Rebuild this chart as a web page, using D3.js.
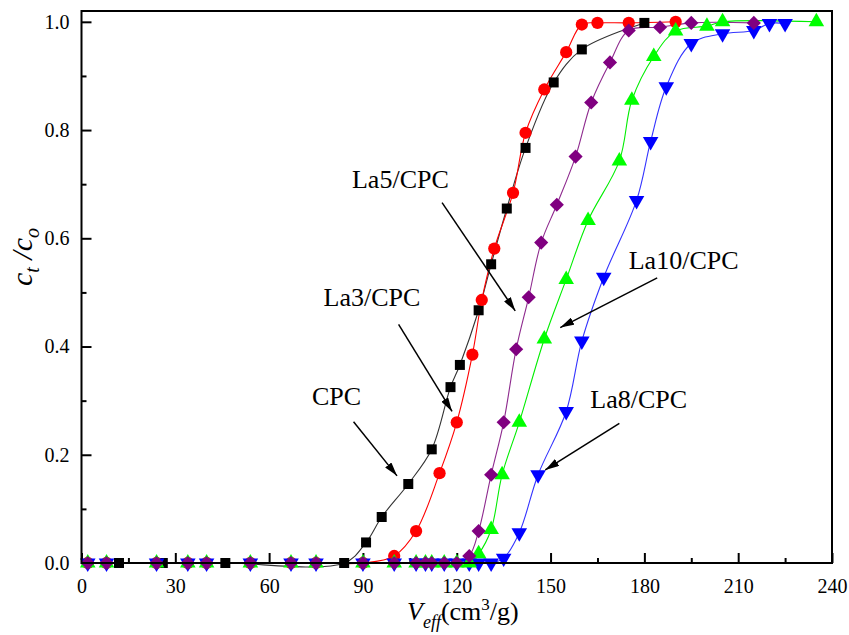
<!DOCTYPE html>
<html>
<head>
<meta charset="utf-8">
<script src="https://d3js.org/d3.v7.min.js"></script>
<style>
body{margin:0;background:#fff;}
text{font-family:"Liberation Serif","Times New Roman",serif;fill:#000;}
</style>
</head>
<body>
<script>
// breakthrough data, V_eff (cm3/g) vs ct/co
var cpcV=[12,26,46,84,91,96,104.5,112,118,121,127,131,136,142,151,160,180];
var cpcC=[0,0,0,0,0.038,0.085,0.146,0.21,0.325,0.366,0.467,0.552,0.655,0.767,0.888,0.949,0.998];

var la3V=[2,8,24,34,40,54,67,75,90,100,107,114.5,120,125,128,132,138,142,148,155,160,165,175,190];
var la3C=[0,0,0,0,0,0,0,0,0,0.013,0.059,0.166,0.26,0.385,0.486,0.581,0.684,0.795,0.875,0.944,0.995,0.998,0.998,1.0];

var la8V=[2,8,24,34,40,54,67,75,90,100,107,110,112,116,120,124,127,131,135,140,146,155,160,167,177.5,182,187,195,205,215,220,225];
var la8C=[0,0,0,0,0,0,0,0,0,0,0,0,0,0,0,0,0,0,0.009,0.056,0.163,0.28,0.41,0.528,0.67,0.779,0.88,0.96,0.978,0.984,0.997,0.997];

var la10V=[2,8,24,34,40,54,67,75,90,100,107,110,112,116,120,124,127,131,134.5,140,148,155,162,172,176,183,190,200,205,235];
var la10C=[0,0,0,0,0,0,0,0,0,0,0,0,0,0,0,0,0.017,0.062,0.163,0.26,0.414,0.524,0.633,0.743,0.855,0.936,0.983,0.992,1.0,1.0];

var la5V=[2,8,24,34,40,54,67,75,90,100,107,110,112,116,120,124,127,131,135,139,143,147,152,158,163,169,175,185,195,215];
var la5C=[0,0,0,0,0,0,0,0,0,0,0,0,0,0,0,0.013,0.059,0.163,0.26,0.395,0.491,0.592,0.662,0.751,0.851,0.925,0.984,0.99,0.998,0.998];

var xMajor=[0,30,60,90,120,150,180,210,240];
var xMinor=[15,45,75,105,135,165,195,225];
var yMajor=[0,0.2,0.4,0.6,0.8,1.0];
var yMinor=[0.1,0.3,0.5,0.7,0.9];

// annotation text + arrow (data units)
var noteText=['CPC','La3/CPC','La5/CPC','La10/CPC','La8/CPC'];
var noteAt=[[73.7,0.292],[77.4,0.474],[86.5,0.693],[175,0.544],[162.7,0.286]];
var arrowFrom=[[87,0.261],[101.4,0.441],[115.3,0.666],[184.1,0.527],[172,0.258]];
var arrowTo=[[100.9,0.161],[118.5,0.28],[138.7,0.466],[153.1,0.435],[148.3,0.172]];

var serif="'Liberation Serif','Times New Roman',serif";

var x=d3.scaleLinear().domain([0,240]).range([81.5,832]);
var y=d3.scaleLinear().domain([0,1.02]).range([563,11]);

var svg=d3.select("body").append("svg").attr("width",849).attr("height",635);

var defs=svg.append("defs");
defs.append("marker")
  .attr("id","head")
  .attr("markerUnits","userSpaceOnUse")
  .attr("viewBox","0 0 14 8")
  .attr("refX",14).attr("refY",4)
  .attr("markerWidth",14).attr("markerHeight",8)
  .attr("orient","auto")
  .append("path").attr("d","M0,0L14,4L0,8Z").attr("fill","#000");

// ticks (inward)
function styleAxis(g){
  g.attr("font-family",serif);
  g.select(".domain").remove();
  g.selectAll(".tick line").attr("stroke","#000").attr("stroke-width",2);
  g.selectAll("text").attr("font-size",20).attr("fill","#000").attr("font-family",serif);
}
svg.append("g").attr("transform","translate(0,563)")
  .call(d3.axisBottom(x).tickValues(xMajor).tickSizeInner(-10).tickSizeOuter(0).tickPadding(16).tickFormat(d3.format("d")))
  .call(styleAxis);
svg.append("g").attr("transform","translate(0,563)")
  .call(d3.axisBottom(x).tickValues(xMinor).tickSizeInner(-5).tickSizeOuter(0).tickFormat(""))
  .call(styleAxis);
svg.append("g").attr("transform","translate(81.5,0)")
  .call(d3.axisLeft(y).tickValues(yMajor).tickSizeInner(-10).tickSizeOuter(0).tickPadding(12).tickFormat(d3.format(".1f")))
  .call(styleAxis);
svg.append("g").attr("transform","translate(81.5,0)")
  .call(d3.axisLeft(y).tickValues(yMinor).tickSizeInner(-5).tickSizeOuter(0).tickFormat(""))
  .call(styleAxis);

// series
var series=[
  {v:cpcV,c:cpcC,fill:"#000",line:"#333",shape:"square"},
  {v:la3V,c:la3C,fill:"#ff0000",line:"#ff0000",shape:"circle"},
  {v:la8V,c:la8C,fill:"#0000ff",line:"#3333ff",shape:"down"},
  {v:la10V,c:la10C,fill:"#00ff00",line:"#00ee00",shape:"up"},
  {v:la5V,c:la5C,fill:"#800080",line:"#8e2a8e",shape:"diamond"}
];
var line=d3.line().x(function(d){return x(d[0]);}).y(function(d){return y(d[1]);}).curve(d3.curveCatmullRom.alpha(0.5));

series.forEach(function(s){
  var pts=s.v.map(function(v,i){return [v,s.c[i]];});
  svg.append("path").datum(pts)
    .attr("fill","none").attr("stroke",s.line).attr("stroke-width",1.1)
    .attr("d",line);
});

var symType={square:d3.symbolSquare,circle:d3.symbolCircle,diamond:d3.symbolSquare,up:d3.symbolTriangle,down:d3.symbolTriangle};
var symSize={square:100,circle:118,diamond:100,up:105,down:105};
var symRot={square:0,circle:0,diamond:45,up:0,down:180};

series.forEach(function(s){
  var pts=s.v.map(function(v,i){return [v,s.c[i]];});
  svg.append("g").selectAll("path")
    .data(pts)
    .enter().append("path")
      .attr("d",d3.symbol(symType[s.shape],symSize[s.shape]))
      .attr("fill",s.fill)
      .attr("transform",function(d){return "translate("+x(d[0])+","+y(d[1])+") rotate("+symRot[s.shape]+")";});
});

// frame
svg.append("rect")
  .attr("x",x(0)).attr("y",y(1.02))
  .attr("width",x(240)-x(0)).attr("height",y(0)-y(1.02))
  .attr("fill","none").attr("stroke","#000").attr("stroke-width",2);

// annotations
svg.append("g").selectAll("line")
  .data(arrowFrom)
  .enter().append("line")
    .attr("x1",function(d){return x(d[0]);})
    .attr("y1",function(d){return y(d[1]);})
    .attr("x2",function(d,i){return x(arrowTo[i][0]);})
    .attr("y2",function(d,i){return y(arrowTo[i][1]);})
    .attr("stroke","#000").attr("stroke-width",1.5)
    .attr("marker-end","url(#head)");

svg.append("g").selectAll("text")
  .data(noteText)
  .enter().append("text")
    .attr("x",function(d,i){return x(noteAt[i][0]);})
    .attr("y",function(d,i){return y(noteAt[i][1]);})
    .attr("font-size",26)
    .attr("font-family",serif)
    .text(function(d){return d;});

// axis titles
var xt=svg.append("text").attr("x",407).attr("y",620).attr("font-size",26).attr("font-family",serif);
xt.append("tspan").attr("font-style","italic").text("V");
xt.append("tspan").attr("font-style","italic").attr("font-size",18).attr("dy",8).text("eff");
xt.append("tspan").attr("dy",-8).text("(cm");
xt.append("tspan").attr("font-size",17).attr("dy",-10).text("3");
xt.append("tspan").attr("dy",10).text("/g)");

var yt=svg.append("text").attr("transform","translate(32,286) rotate(-90)").attr("font-size",30).attr("font-style","italic").attr("font-family",serif);
yt.append("tspan").text("c");
yt.append("tspan").attr("font-size",20).attr("dy",7).text("t");
yt.append("tspan").attr("dy",-7).text(" /c");
yt.append("tspan").attr("font-size",20).attr("dy",7).text("o");
</script>
</body>
</html>
